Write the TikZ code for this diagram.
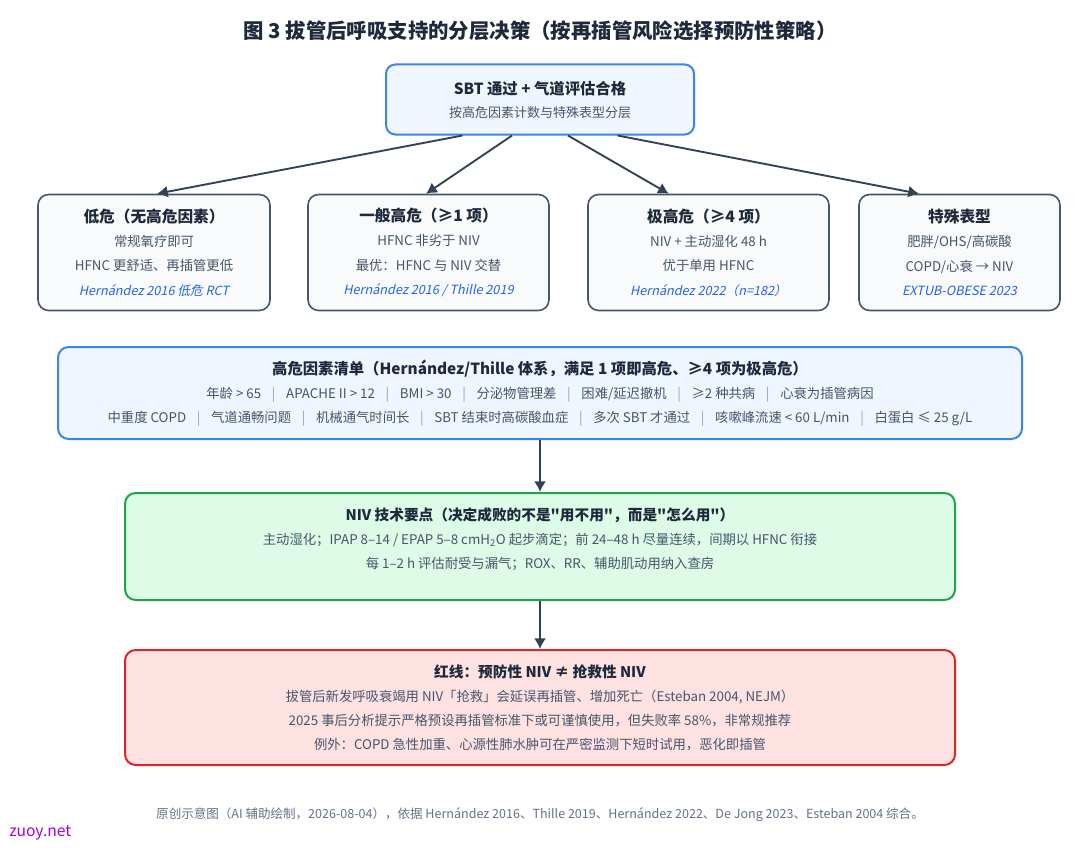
\documentclass[tikz,border=0pt]{standalone}
\usepackage{fontspec}
\setmainfont{Noto Sans CJK SC}[Ligatures=TeXOff]
\newfontfamily\citefont{Noto Sans CJK SC}[FakeSlant=0.22]
\usepackage{tikz}
\usetikzlibrary{shapes,arrows.meta}
\usetikzlibrary{calc}
\usetikzlibrary{positioning}
\definecolor{inkdark}{HTML}{1E293B}
\definecolor{inkbody}{HTML}{475569}
\definecolor{citeblue}{HTML}{2563EB}
\definecolor{blueline}{HTML}{3B82F6}
\definecolor{bluefill}{HTML}{EFF6FF}
\definecolor{slateline}{HTML}{475569}
\definecolor{slatefill}{HTML}{F8FAFC}
\definecolor{greenline}{HTML}{22A34A}
\definecolor{greenfill}{HTML}{DCFCE7}
\definecolor{redline}{HTML}{DC2626}
\definecolor{redfill}{HTML}{FEE2E2}
\definecolor{arrowink}{HTML}{334155}
\definecolor{footink}{HTML}{64748B}
\definecolor{sepgray}{HTML}{94A3B8}
\definecolor{markpurple}{HTML}{A100E6}
\tikzstyle{topbox} = [draw=blueline, fill=bluefill, line width=1.5pt, rounded corners=7pt,
    minimum width=231pt, minimum height=52.5pt, align=center, text=inkbody,
    font=\fontsize{9.75}{17.25}\selectfont]
\tikzstyle{tier} = [draw=slateline, fill=slatefill, line width=1.2pt, rounded corners=8pt,
    minimum height=87pt, align=center, text=inkbody,
    font=\fontsize{10}{18.25}\selectfont]
\tikzstyle{listbox} = [draw=blueline, fill=bluefill, line width=1.5pt, rounded corners=8pt,
    minimum width=723pt, minimum height=69pt, align=center, text=inkbody,
    font=\fontsize{10}{17.75}\selectfont]
\tikzstyle{nivbox} = [draw=greenline, fill=greenfill, line width=1.5pt, rounded corners=8pt,
    minimum width=622.5pt, minimum height=80.25pt]
\tikzstyle{redbox} = [draw=redline, fill=redfill, line width=1.5pt, rounded corners=8pt,
    minimum width=622.5pt, minimum height=86.25pt, align=center, text=inkbody,
    font=\fontsize{10}{18}\selectfont]
\tikzstyle{boxtext} = [align=center, text=inkbody, font=\fontsize{10}{18}\selectfont]
\tikzstyle{link} = [draw=arrowink, line width=1.4pt, -{Latex[length=8pt,width=9pt]}]
\newcommand{\boxtitle}[1]{{\fontsize{11.75}{18}\selectfont\bfseries\color{inkdark}#1}}
\newcommand{\citeline}[1]{{\citefont\fontsize{9.5}{18}\selectfont\color{citeblue}#1}}
\newcommand{\sepbar}{\hspace{0.8em}{\color{sepgray}|}\hspace{0.8em}}

\begin{document}
\begin{tikzpicture}[x=0.75pt, y=-0.75pt]
    \useasboundingbox (0,0) rectangle (1080,849);
    \fill[white] (0,0) rectangle (1080,849);

    % Title and the entry block
    \node[text=inkdark, font=\fontsize{15.3}{18}\selectfont\bfseries] (title) at (540,31)
        {图 3 拔管后呼吸支持的分层决策（按再插管风险选择预防性策略）};
    \node[topbox] (top) at (540,99.5)
        {{\fontsize{11.5}{17.25}\selectfont\bfseries\color{inkdark}SBT 通过 + 气道评估合格}\\
         按高危因素计数与特殊表型分层};

    % Four risk tiers
    \node[tier, minimum width=174pt] (low) at (154,252.5)
        {\boxtitle{低危（无高危因素）}\\ 常规氧疗即可\\ HFNC 更舒适、再插管更低\\
         \citeline{Hernández 2016 低危 RCT}};
    \node[tier, minimum width=180.75pt] (high) at (428.5,252.5)
        {\boxtitle{一般高危（≥1 项）}\\ HFNC 非劣于 NIV\\ 最优：HFNC 与 NIV 交替\\
         \citeline{Hernández 2016 / Thille 2019}};
    \node[tier, minimum width=180.75pt] (vhigh) at (708.5,252.5)
        {\boxtitle{极高危（≥4 项）}\\ NIV + 主动湿化 48 h\\ 优于单用 HFNC\\
         \citeline{Hernández 2022（n=182）}};
    \node[tier, minimum width=150.75pt] (pheno) at (959.5,252.5)
        {\boxtitle{特殊表型}\\ 肥胖/OHS/高碳酸\\ COPD/心衰 → NIV\\
         \citeline{EXTUB-OBESE 2023}};

    \draw[link] ($(top.south west)!0.25!(top.south east)$) -- ($(low.north west)!0.513!(low.north east)$);
    \draw[link] ($(top.south west)!0.41!(top.south east)$) -- ($(high.north west)!0.49!(high.north east)$);
    \draw[link] ($(top.south west)!0.59!(top.south east)$) -- ($(vhigh.north west)!0.336!(vhigh.north east)$);
    \draw[link] ($(top.south west)!0.75!(top.south east)$) -- ($(pheno.north west)!0.30!(pheno.north east)$);

    % Risk factor list, NIV technique, red line
    \node[listbox] (factors) at (540,393)
        {{\fontsize{11.5}{17.75}\selectfont\bfseries\color{inkdark}高危因素清单（Hernández/Thille 体系，满足 1 项即高危、≥4 项为极高危）}\\
         年龄 > 65\sepbar APACHE II > 12\sepbar BMI > 30\sepbar 分泌物管理差\sepbar 困难/延迟撤机\sepbar ≥2 种共病\sepbar 心衰为插管病因\\
         中重度 COPD\sepbar 气道通畅问题\sepbar 机械通气时间长\sepbar SBT 结束时高碳酸血症\sepbar 多次 SBT 才通过\sepbar 咳嗽峰流速 < 60 L/min\sepbar 白蛋白 ≤ 25 g/L};

    \node[nivbox] (niv) at (540,546.5) {};
    \node[boxtext] (nivtext) at ($(niv.north)+(0,47)$)
        {{\fontsize{11}{18}\selectfont\bfseries\color{inkdark}NIV 技术要点（决定成败的不是"用不用"，而是"怎么用"）}\\
         主动湿化；IPAP 8–14 / EPAP 5–8 cmH\textsubscript{2}O 起步滴定；前 24–48 h 尽量连续，间期以 HFNC 衔接\\
         每 1–2 h 评估耐受与漏气；ROX、RR、辅助肌动用纳入查房};

    \node[redbox] (redline) at (540,707.5)
        {{\fontsize{11}{18}\selectfont\bfseries\color{inkdark}红线：预防性 NIV ≠ 抢救性 NIV}\\
         拔管后新发呼吸衰竭用 NIV「抢救」会延误再插管、增加死亡（Esteban 2004, NEJM）\\
         2025 事后分析提示严格预设再插管标准下或可谨慎使用，但失败率 58\%，非常规推荐\\
         例外：COPD 急性加重、心源性肺水肿可在严密监测下短时试用，恶化即插管};

    \draw[link] (factors.south) -- (niv.north);
    \draw[link] (niv.south) -- (redline.north);

    % Footer and mark
    \node[text=footink, font=\fontsize{9.4}{11}\selectfont] (footer) at (540,815)
        {原创示意图（AI 辅助绘制，2026-08-04），依据 Hernández 2016、Thille 2019、Hernández 2022、De Jong 2023、Esteban 2004 综合。};
    \node[text=markpurple, font=\fontsize{11.75}{12}\selectfont, anchor=west, inner sep=0pt] (mark) at (9,833) {zuoy.net};
\end{tikzpicture}
\end{document}
